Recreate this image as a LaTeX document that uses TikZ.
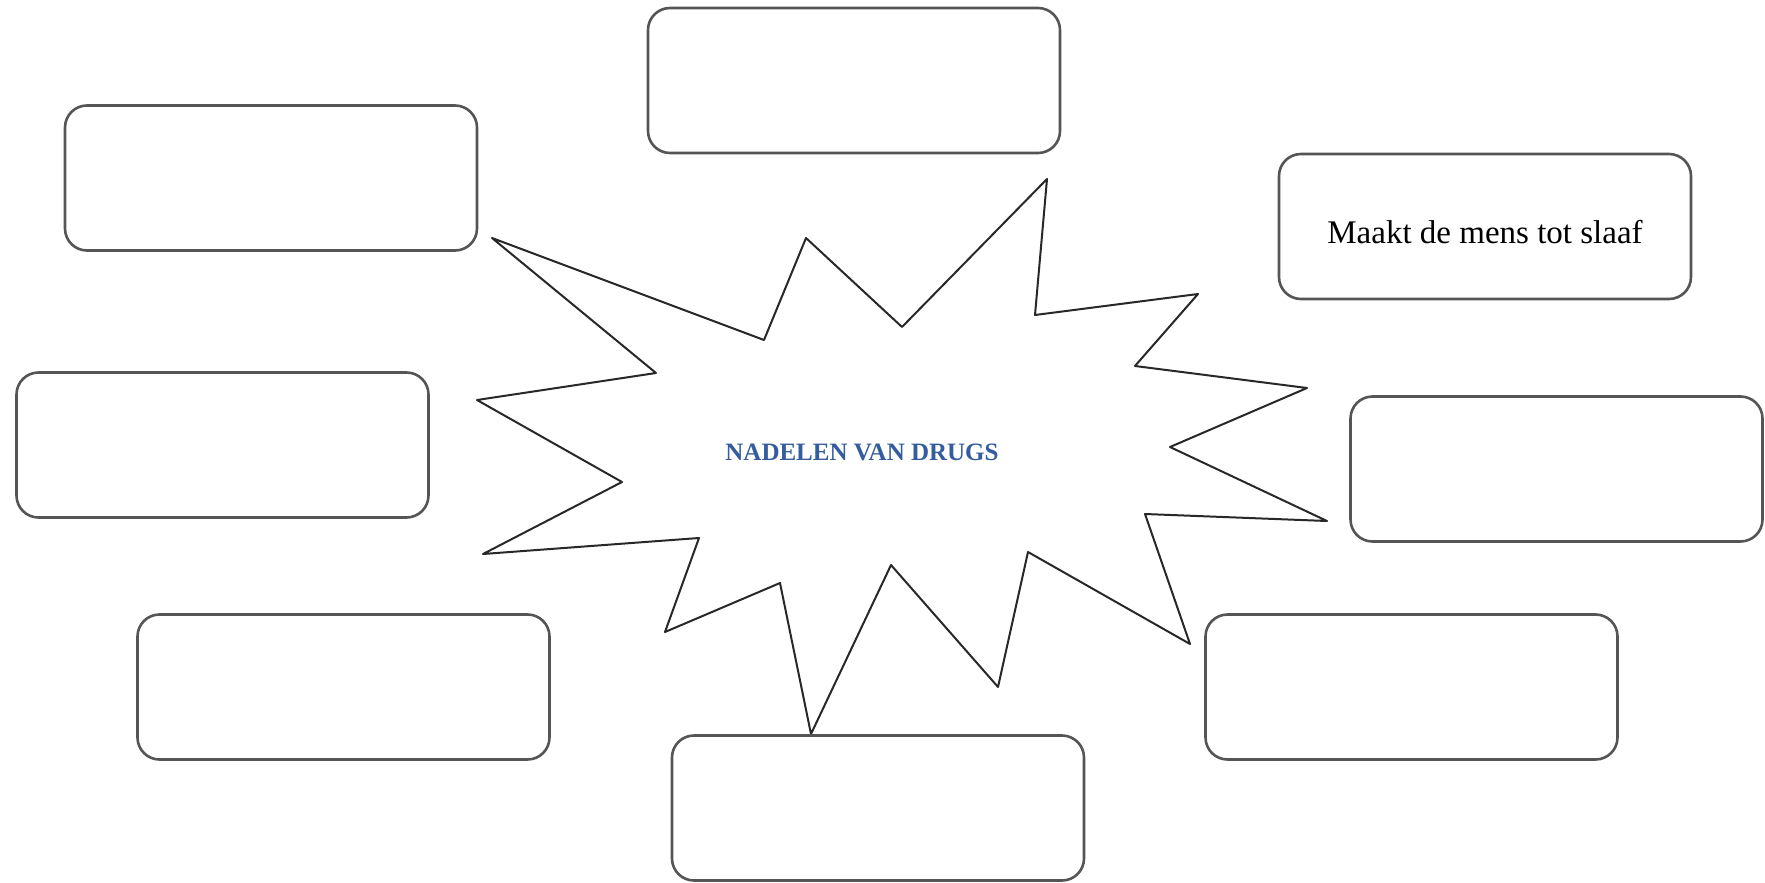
\documentclass[tikz,border=0pt]{standalone}
\usepackage{fontspec}
\setmainfont{Liberation Serif}
\definecolor{boxline}{RGB}{85,85,85}
\definecolor{starline}{RGB}{40,40,40}
\definecolor{titleblue}{RGB}{52,92,158}
\tikzset{
  answerbox/.style={draw=boxline, line width=2.6pt, rounded corners=22pt, fill=white,
    minimum width=412pt, minimum height=145pt, inner sep=0pt},
  burst/.style={draw=starline, line width=2pt, line join=round},
  title/.style={font=\fontsize{25}{30}\selectfont\bfseries, text=titleblue, anchor=base, inner sep=0pt},
  boxtext/.style={font=\fontsize{33}{40}\selectfont, anchor=base, inner sep=0pt}
}
\begin{document}
\begin{tikzpicture}[x=1pt,y=-1pt]
\useasboundingbox (0,0) rectangle (1765,883);
% starburst
\draw[burst] (492,238) -- (764,340) -- (806,238) -- (902,327) -- (1047,179) -- (1035,315)
  -- (1198,294) -- (1135,366) -- (1307,388) -- (1170,447) -- (1327,521) -- (1145,514)
  -- (1190,644) -- (1028,552) -- (998,687) -- (891,565) -- (811,734) -- (780,583)
  -- (665,632) -- (699,538) -- (483,554) -- (622,482) -- (477,400) -- (656,373) -- cycle;
\node[title] (centre) at (862,460) {NADELEN VAN DRUGS};
% boxes
\node[answerbox] (topc) at (854,80.5) {};
\node[answerbox] (topl) at (271,178) {};
\node[answerbox] (topr) at (1485,226.5) {};
\node[answerbox] (midl) at (222.5,445) {};
\node[answerbox] (midr) at (1556.5,469) {};
\node[answerbox] (botl) at (343.5,687) {};
\node[answerbox] (botr) at (1411.5,687) {};
\node[answerbox] (botc) at (878,808) {};
\node[boxtext] (toprtext) at (1485,243) {Maakt de mens tot slaaf};
\end{tikzpicture}
\end{document}
